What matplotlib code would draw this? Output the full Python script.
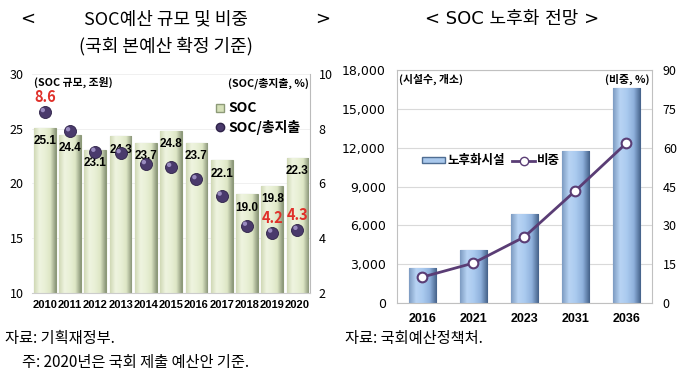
import matplotlib
matplotlib.use("Agg")
import matplotlib.pyplot as plt
import numpy as np
from matplotlib.colors import LinearSegmentedColormap
from matplotlib.lines import Line2D
from matplotlib.patches import Patch

plt.rcParams["font.family"] = ["Noto Sans CJK KR", "DejaVu Sans"]
NARROW = ["Liberation Sans Narrow", "Liberation Sans", "DejaVu Sans"]
TITLE = ["DejaVu Sans", "Noto Sans CJK KR"]

# left chart data
years_l = ["2010", "2011", "2012", "2013", "2014", "2015",
           "2016", "2017", "2018", "2019", "2020"]
soc_budget = [25.1, 24.4, 23.1, 24.3, 23.7, 24.8, 23.7, 22.1, 19.0, 19.8, 22.3]
soc_share = [8.6, 7.9, 7.15, 7.1, 6.7, 6.6, 6.15, 5.55, 4.45, 4.2, 4.3]
red_labels = {0: "8.6", 9: "4.2", 10: "4.3"}

# right chart data
years_r = ["2016", "2021", "2023", "2031", "2036"]
aging_count = [2700, 4100, 6900, 11750, 16600]
aging_share = [10.0, 15.4, 25.5, 43.3, 61.7]


def gradient_bars(ax, bars, colors, z=2):
    cmap = LinearSegmentedColormap.from_list("g", colors)
    grad = np.linspace(0, 1, 64).reshape(1, -1)
    xlim, ylim = ax.get_xlim(), ax.get_ylim()
    for b in bars:
        x0 = b.get_x()
        y0 = max(b.get_y(), ylim[0])
        y1 = b.get_y() + b.get_height()
        im = ax.imshow(grad, extent=[x0, x0 + b.get_width(), y0, y1],
                       aspect="auto", cmap=cmap, zorder=z, interpolation="bilinear")
        im.set_clip_path(b)
    ax.set_xlim(xlim)
    ax.set_ylim(ylim)


fig = plt.figure(figsize=(7.0, 3.83), dpi=100)

# ---------------- left chart ----------------
ax = fig.add_axes([0.046, 0.235, 0.397, 0.572])
xl = np.arange(len(years_l))
bars = ax.bar(xl, soc_budget, width=0.86, color="#e3ebcc",
              edgecolor="#8d9a78", linewidth=0.8, zorder=2)
ax.set_xlim(-0.5, len(years_l) - 0.5)
ax.set_ylim(10, 30)
gradient_bars(ax, bars, ["#d0d9b6", "#eff4e0", "#e9f0d6", "#dde6c5", "#8c977a"])
ax.set_yticks([10, 15, 20, 25, 30])
ax.set_xticks(xl)
ax.set_xticklabels(years_l, fontsize=8, fontweight="bold", family=NARROW)
ax.tick_params(axis="y", labelsize=9, length=0, pad=6)
ax.tick_params(axis="x", length=0, pad=5)
ax.grid(axis="y", color="#eeeeee", linewidth=0.6, zorder=0)
for s in ["top", "left"]:
    ax.spines[s].set_visible(False)
ax.spines["bottom"].set_color("#cccccc")
ax.spines["right"].set_color("#bbbbbb")
for i, v in enumerate(soc_budget):
    ax.text(i, v - 1.2, f"{v:.1f}", ha="center", va="center", fontsize=8.5,
            fontweight="bold", family=NARROW, zorder=3)
ax.text(0.005, 0.985, "(SOC 규모, 조원)", transform=ax.transAxes, ha="left",
        va="top", fontsize=7.8, fontweight="bold")

ax2 = ax.twinx()
ax2.set_ylim(2, 10)
ax2.set_yticks([2, 4, 6, 8, 10])
ax2.tick_params(axis="y", labelsize=9, length=0, pad=6)
for s in ["top", "left", "bottom", "right"]:
    ax2.spines[s].set_visible(False)
ax2.scatter(xl, soc_share, s=75, color="#4a3a6c", edgecolor="#2e2248",
            linewidth=0.6, zorder=4)
ax2.scatter(xl - 0.08, np.array(soc_share) + 0.08, s=10, color="#9a8cc0",
            edgecolor="none", zorder=5)
for i, t in red_labels.items():
    ax2.text(i, soc_share[i] + 0.55, t, ha="center", va="center", fontsize=10.5,
             fontweight="bold", color="#e0302a", zorder=6)
ax2.text(0.995, 0.985, "(SOC/총지출, %)", transform=ax2.transAxes, ha="right",
         va="top", fontsize=7.8, fontweight="bold")
leg_l = [Line2D([], [], marker="s", linestyle="none", markersize=6,
                markerfacecolor="#d5e0b8", markeredgecolor="#8d9a78", label="SOC"),
         Line2D([], [], marker="o", linestyle="none", markersize=6,
                markerfacecolor="#4a3a6c", markeredgecolor="#2e2248", label="SOC/총지출")]
ax2.legend(handles=leg_l, loc="upper left", bbox_to_anchor=(0.63, 0.9), frameon=False,
           prop={"size": 10, "weight": "bold"}, handletextpad=0.1,
           labelspacing=0.35, handlelength=1.0, borderaxespad=0)

# ---------------- right chart ----------------
bx = fig.add_axes([0.567, 0.209, 0.364, 0.608])
xr = np.arange(len(years_r))
bars_r = bx.bar(xr, aging_count, width=0.53, color="#a9c8ec",
                edgecolor="#4f6d92", linewidth=0.8, zorder=2)
bx.set_xlim(-0.5, len(years_r) - 0.5)
bx.set_ylim(0, 18000)
gradient_bars(bx, bars_r, ["#7e9cc2", "#b8d4f4", "#aacaef", "#8fb1dc", "#45628a"])
bx.set_yticks(np.arange(0, 18001, 3000))
bx.set_yticklabels([f"{v:,}" for v in range(0, 18001, 3000)], family="DejaVu Sans")
bx.set_xticks(xr)
bx.set_xticklabels(years_r, fontsize=9, fontweight="bold", family=NARROW)
bx.tick_params(axis="y", labelsize=9, length=0, pad=8)
bx.tick_params(axis="x", length=0, pad=7)
bx.grid(axis="y", color="#d9d9d9", linewidth=0.8, zorder=0)
for s in bx.spines.values():
    s.set_color("#c0c0c0")
    s.set_linewidth(0.8)
bx.text(0.01, 0.985, "(시설수, 개소)", transform=bx.transAxes, ha="left",
        va="top", fontsize=7.8, fontweight="bold")

bx2 = bx.twinx()
bx2.set_ylim(0, 90)
bx2.set_yticks(np.arange(0, 91, 15))
bx2.tick_params(axis="y", labelsize=9, length=0, pad=8)
for s in bx2.spines.values():
    s.set_visible(False)
bx2.plot(xr, aging_share, color="#5a3d75", linewidth=2, marker="o", markersize=7,
         markerfacecolor="white", markeredgecolor="#5a3d75", markeredgewidth=1.5, zorder=4)
bx2.text(0.99, 0.985, "(비중, %)", transform=bx2.transAxes, ha="right",
         va="top", fontsize=7.8, fontweight="bold")
leg_r = [Patch(facecolor="#a9c8ec", edgecolor="#4f6d92", label="노후화시설"),
         Line2D([], [], color="#5a3d75", linewidth=2, marker="o", markersize=6,
                markerfacecolor="white", markeredgecolor="#5a3d75", label="비중")]
bx2.legend(handles=leg_r, loc="center left", bbox_to_anchor=(0.08, 0.61), ncol=2,
           frameon=False, prop={"size": 9, "weight": "bold"}, handletextpad=0.2,
           columnspacing=0.6, handlelength=1.8, handleheight=0.4, borderaxespad=0)

# ---------------- titles & notes ----------------
ty = 1 - 24 / 383
fig.text(20 / 700, ty, "<", ha="left", va="baseline", fontsize=13, family=TITLE)
fig.text(330 / 700, ty, ">", ha="right", va="baseline", fontsize=13, family=TITLE)
fig.text(166 / 700, ty, "SOC예산 규모 및 비중", ha="center", va="baseline",
         fontsize=13)
fig.text(166 / 700, 1 - 51 / 383, "(국회 본예산 확정 기준)", ha="center", va="baseline",
         fontsize=13)
fig.text(512 / 700, ty, "< SOC 노후화 전망 >", ha="center", va="baseline",
         fontsize=13, family=TITLE)
fig.text(5 / 700, 1 - 338 / 383, "자료: 기획재정부.", ha="left", va="center", fontsize=11)
fig.text(22 / 700, 1 - 362 / 383, "주: 2020년은 국회 제출 예산안 기준.", ha="left",
         va="center", fontsize=11)
fig.text(345 / 700, 1 - 338 / 383, "자료: 국회예산정책처.", ha="left", va="center",
         fontsize=11)

fig.savefig("out.png", dpi=100)
